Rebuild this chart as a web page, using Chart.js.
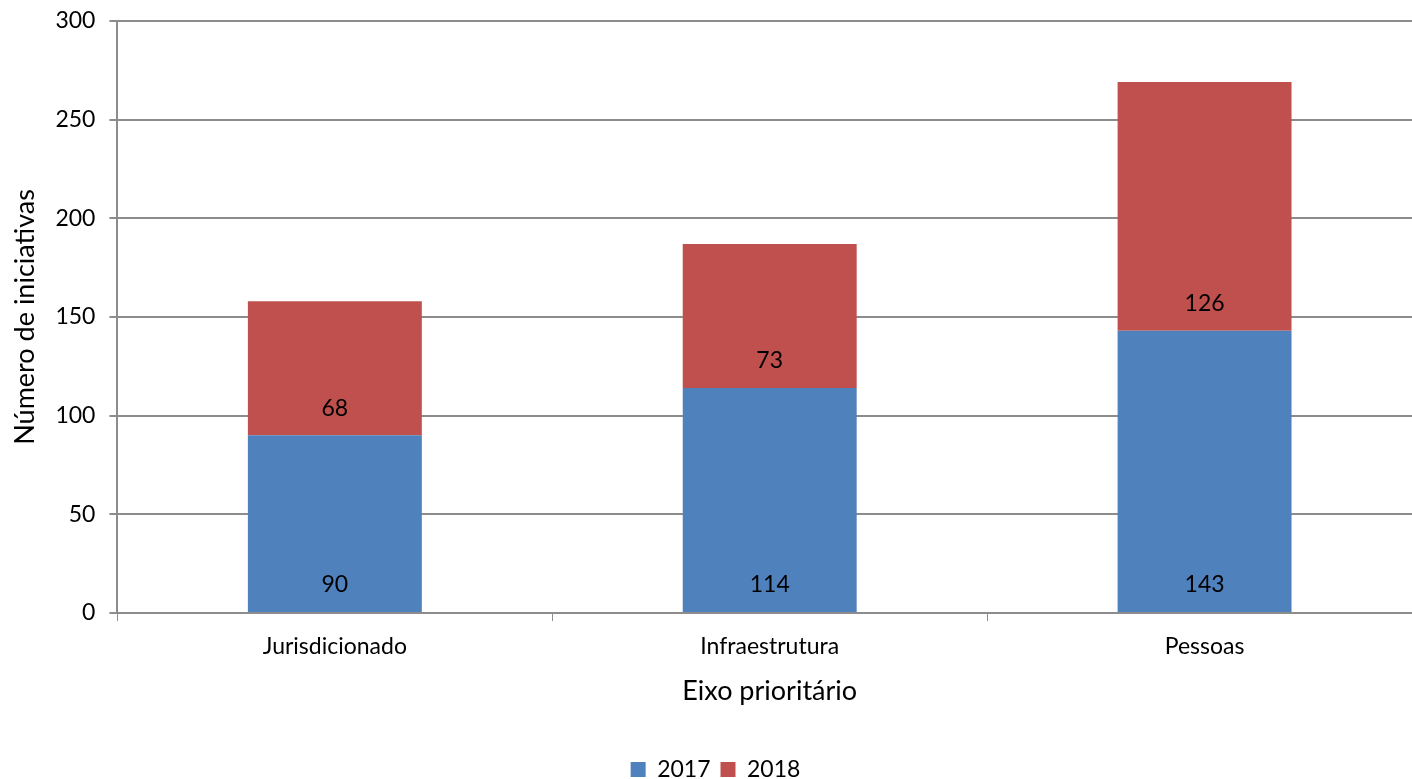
<!DOCTYPE html>
<html>
<head>
<meta charset="utf-8">
<script src="https://cdn.jsdelivr.net/npm/chart.js@4.4.0/dist/chart.umd.min.js"></script>
<style>
  html, body { margin: 0; padding: 0; background: #fff; overflow: hidden; }
  #wrap { width: 1430px; height: 779px; }
</style>
</head>
<body>
<div id="wrap"><canvas id="myChart" width="1430" height="779"></canvas></div>
<script>
// data
var categories = ['Jurisdicionado', 'Infraestrutura', 'Pessoas'];
var values2017 = [90, 114, 143];
var values2018 = [68, 73, 126];
var seriesNames = ['2017', '2018'];
var yTicks = [0, 50, 100, 150, 200, 250, 300];

var FONT = "Lato, 'Open Sans', sans-serif";

// labels sit near the base of each segment, like the original
var baseLabels = {
    id: 'baseLabels',
    afterDatasetsDraw: function (chart) {
        var ctx = chart.ctx;
        ctx.save();
        ctx.fillStyle = '#000';
        ctx.font = '23px ' + FONT;
        ctx.textAlign = 'center';
        ctx.textBaseline = 'middle';
        chart.data.datasets.forEach(function (ds, i) {
            var meta = chart.getDatasetMeta(i);
            meta.data.forEach(function (bar, j) {
                ctx.fillText(ds.data[j], bar.x, bar.base - 27);
            });
        });
        ctx.restore();
    }
};

new Chart(document.getElementById('myChart'), {
    type: 'bar',
    data: {
        labels: categories,
        datasets: [
            { label: seriesNames[0], data: values2017, backgroundColor: '#4F81BD', barPercentage: 0.8, categoryPercentage: 0.5 },
            { label: seriesNames[1], data: values2018, backgroundColor: '#C0504D', barPercentage: 0.8, categoryPercentage: 0.5 }
        ]
    },
    options: {
        responsive: false,
        animation: false,
        layout: { padding: { top: 0, right: 8, left: 9, bottom: -12 } },
        plugins: {
            tooltip: { enabled: false },
            legend: {
                position: 'bottom',
                labels: {
                    font: { family: FONT, size: 23 },
                    color: '#000',
                    boxWidth: 15,
                    boxHeight: 15,
                    padding: 10
                }
            }
        },
        scales: {
            x: {
                stacked: true,
                grid: { drawOnChartArea: false, color: '#8c8c8c', tickLength: 8, offset: true },
                border: { color: '#8c8c8c', width: 2 },
                ticks: { font: { family: FONT, size: 23 }, color: '#000', padding: 12 },
                title: { display: true, text: 'Eixo prioritário', font: { family: FONT, size: 27 }, color: '#000', padding: { top: 2, bottom: 41 } }
            },
            y: {
                stacked: true,
                min: 0,
                max: 300,
                afterBuildTicks: function (axis) {
                    axis.ticks = yTicks.map(function (v) { return { value: v }; });
                },
                grid: { color: '#8c8c8c', lineWidth: 2, tickLength: 8 },
                border: { color: '#8c8c8c', width: 2 },
                ticks: { font: { family: FONT, size: 23, lineHeight: 0.6 }, color: '#000', padding: 14 },
                title: { display: true, text: 'Número de iniciativas', font: { family: FONT, size: 27 }, color: '#000', padding: { top: 0, bottom: 0 } }
            }
        }
    },
    plugins: [baseLabels]
});
</script>
</body>
</html>
